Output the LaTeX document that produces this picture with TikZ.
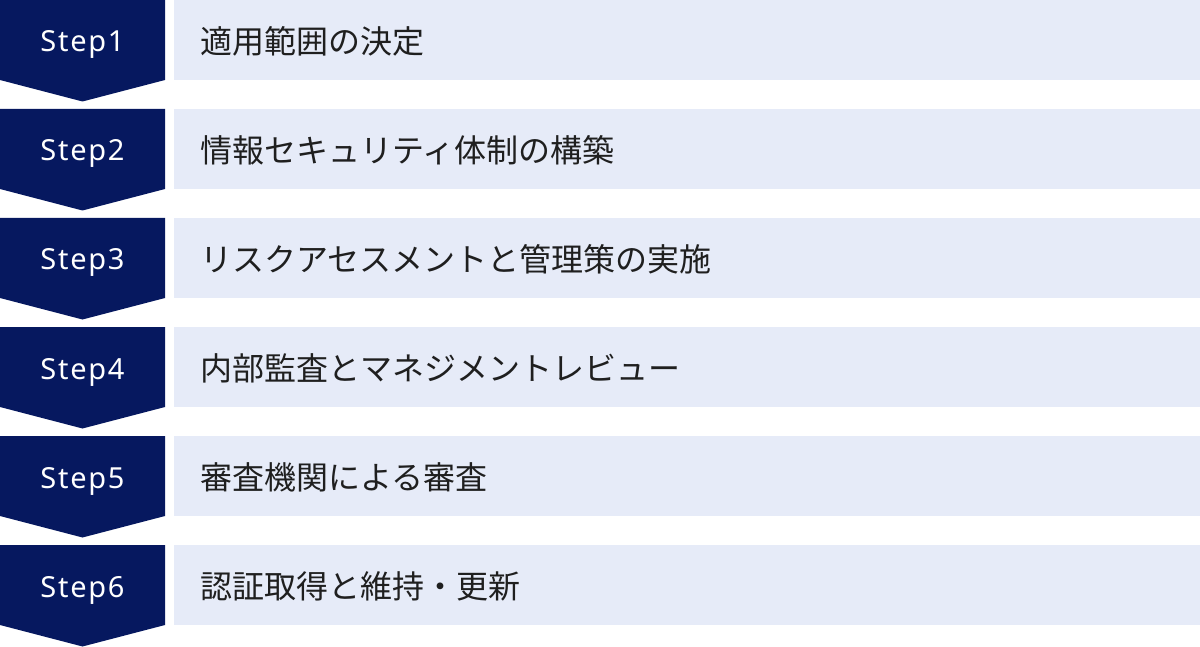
\documentclass[tikz,border=0pt]{standalone}
\usepackage{fontspec}
\setmainfont{Noto Sans CJK JP}
\newfontfamily\tagfont{Noto Sans}[LetterSpace=6]
\definecolor{navy}{HTML}{06185F}
\definecolor{pale}{HTML}{E6EBF8}
\tikzset{
  steptag/.style={anchor=base, text=white, inner sep=0pt, font=\tagfont\fontsize{29}{29}\selectfont},
  stepname/.style={anchor=west, inner sep=0pt, text=black!88, font=\fontsize{32}{32}\selectfont},
}

\begin{document}
\begin{tikzpicture}[x=1pt,y=-1pt]
  \useasboundingbox (0,0) rectangle (1200,647);
  % Step1
  \fill[navy] (0,0) -- (165,0) -- (165,80) -- (82.5,101.5) -- (0,80) -- cycle;
  \fill[pale] (174,0) rectangle (1200,80);
  \node[steptag] (step1) at (82.5,52) {Step1};
  \node[stepname] (name1) at (200,41) {適用範囲の決定};
  % Step2
  \fill[navy] (0,109) -- (165,109) -- (165,189) -- (82.5,210.5) -- (0,189) -- cycle;
  \fill[pale] (174,109) rectangle (1200,189);
  \node[steptag] (step2) at (82.5,161) {Step2};
  \node[stepname] (name2) at (200,150) {情報セキュリティ体制の構築};
  % Step3
  \fill[navy] (0,218) -- (165,218) -- (165,298) -- (82.5,319.5) -- (0,298) -- cycle;
  \fill[pale] (174,218) rectangle (1200,298);
  \node[steptag] (step3) at (82.5,270) {Step3};
  \node[stepname] (name3) at (200,259) {リスクアセスメントと管理策の実施};
  % Step4
  \fill[navy] (0,327) -- (165,327) -- (165,407) -- (82.5,428.5) -- (0,407) -- cycle;
  \fill[pale] (174,327) rectangle (1200,407);
  \node[steptag] (step4) at (82.5,379) {Step4};
  \node[stepname] (name4) at (200,368) {内部監査とマネジメントレビュー};
  % Step5
  \fill[navy] (0,436) -- (165,436) -- (165,516) -- (82.5,537.5) -- (0,516) -- cycle;
  \fill[pale] (174,436) rectangle (1200,516);
  \node[steptag] (step5) at (82.5,488) {Step5};
  \node[stepname] (name5) at (200,477) {審査機関による審査};
  % Step6
  \fill[navy] (0,545) -- (165,545) -- (165,625) -- (82.5,646.5) -- (0,625) -- cycle;
  \fill[pale] (174,545) rectangle (1200,625);
  \node[steptag] (step6) at (82.5,597) {Step6};
  \node[stepname] (name6) at (200,586) {認証取得と維持・更新};
\end{tikzpicture}
\end{document}
